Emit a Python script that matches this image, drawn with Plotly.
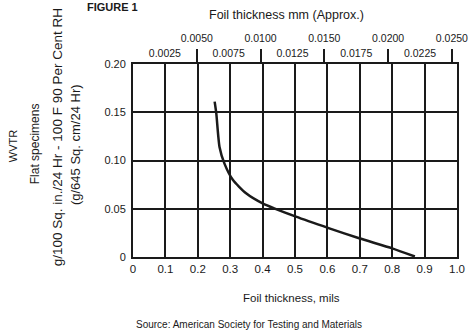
import plotly.graph_objects as go

# Curve data: foil thickness (mils) vs WVTR
thickness_mils = [0.252, 0.257, 0.267, 0.282, 0.308, 0.349, 0.400, 0.503, 0.606, 0.698, 0.800, 0.870]
wvtr = [0.161, 0.149, 0.114, 0.097, 0.080, 0.066, 0.0556, 0.0418, 0.0297, 0.0194, 0.009, 0.0005]

x_ticks = [0, 0.1, 0.2, 0.3, 0.4, 0.5, 0.6, 0.7, 0.8, 0.9, 1.0]
x_ticklabels = ["0", "0.1", "0.2", "0.3", "0.4", "0.5", "0.6", "0.7", "0.8", "0.9", "1.0"]
y_ticks = [0, 0.05, 0.10, 0.15, 0.20]
y_ticklabels = ["0", "0.05", "0.10", "0.15", "0.20"]
mm_upper = [0.0050, 0.0100, 0.0150, 0.0200, 0.0250]
mm_upper_labels = ["0.0050", "0.0100", "0.0150", "0.0200", "0.0250"]
mm_lower = [0.0025, 0.0075, 0.0125, 0.0175, 0.0225]
mm_lower_labels = ["0.0025", "0.0075", "0.0125", "0.0175", "0.0225"]
MM_PER_MIL = 0.0254

FONT = "Liberation Sans"
INK = "#1a1a1a"

fig = go.Figure()
fig.add_trace(go.Scatter(x=thickness_mils, y=wvtr, mode="lines",
                         line=dict(color=INK, width=2.5, shape="spline", smoothing=0.6),
                         showlegend=False, hoverinfo="skip"))
# invisible traces to activate the top axes
fig.add_trace(go.Scatter(x=[0, MM_PER_MIL], y=[0, 0], xaxis="x2", mode="markers",
                         marker=dict(opacity=0), showlegend=False, hoverinfo="skip"))
fig.add_trace(go.Scatter(x=[0, MM_PER_MIL], y=[0, 0], xaxis="x3", mode="markers",
                         marker=dict(opacity=0), showlegend=False, hoverinfo="skip"))

fig.update_layout(
    width=468, height=331,
    margin=dict(l=133, r=11, t=64, b=74, autoexpand=False),
    paper_bgcolor="white", plot_bgcolor="white",
    font=dict(family=FONT, color=INK, size=9),
    xaxis=dict(range=[0, 1.0], tickvals=x_ticks, ticktext=x_ticklabels,
               showgrid=True, gridcolor=INK, gridwidth=1.8,
               showline=True, linecolor=INK, linewidth=2, mirror=True,
               ticks="", zeroline=False, tickfont=dict(size=11.5), automargin=False),
    yaxis=dict(range=[0, 0.20], tickvals=y_ticks, ticktext=y_ticklabels,
               showgrid=True, gridcolor=INK, gridwidth=1.8,
               showline=True, linecolor=INK, linewidth=2, mirror=True,
               ticks="", zeroline=False, tickfont=dict(size=11), ticklabelstandoff=3,
               automargin=False),
    xaxis2=dict(range=[0, MM_PER_MIL], overlaying="x", side="top", anchor="y",
                tickvals=mm_lower, ticktext=mm_lower_labels, ticks="",
                showgrid=False, zeroline=False, showline=False,
                tickfont=dict(size=10.5), automargin=False, ticklabelstandoff=4),
    xaxis3=dict(range=[0, MM_PER_MIL], overlaying="x", side="top", anchor="y",
                tickvals=mm_upper, ticktext=mm_upper_labels, ticks="outside",
                ticklen=14, tickwidth=2, tickcolor=INK,
                showgrid=False, zeroline=False, showline=False,
                tickfont=dict(size=10.5), automargin=False, ticklabelstandoff=3,
                ticklabeloverflow="allow"),
)

ann = [
    dict(text="Foil thickness mm (Approx.)", x=0.475, y=1.254, size=12.5, angle=0),
    dict(text="Foil thickness, mils", x=0.49, y=-0.212, size=11.5, angle=0),
    dict(text="Source: American Society for Testing and Materials", x=0.358, y=-0.352, size=10, angle=0),
    dict(text="WVTR", x=-0.370, y=0.575, size=11, angle=-90),
    dict(text="Flat specimens", x=-0.302, y=0.585, size=12, angle=-90),
    dict(text="g/100 Sq. in./24 Hr - 100 F 90 Per Cent RH", x=-0.235, y=0.62, size=13.5, angle=-90),
    dict(text="(g/645 Sq. cm/24 Hr)", x=-0.179, y=0.58, size=13, angle=-90),
    dict(text="<b>FIGURE 1</b>", x=-0.062, y=1.296, size=11, angle=0),
]
for a in ann:
    fig.add_annotation(text=a["text"], x=a["x"], y=a["y"], xref="paper", yref="paper",
                       showarrow=False, textangle=a["angle"],
                       font=dict(family=FONT, size=a["size"], color=INK),
                       xanchor="center", yanchor="middle")

fig.write_html("out.html", config={"displayModeBar": False},
               post_script="document.body.style.margin='0';document.body.style.padding='0';")
